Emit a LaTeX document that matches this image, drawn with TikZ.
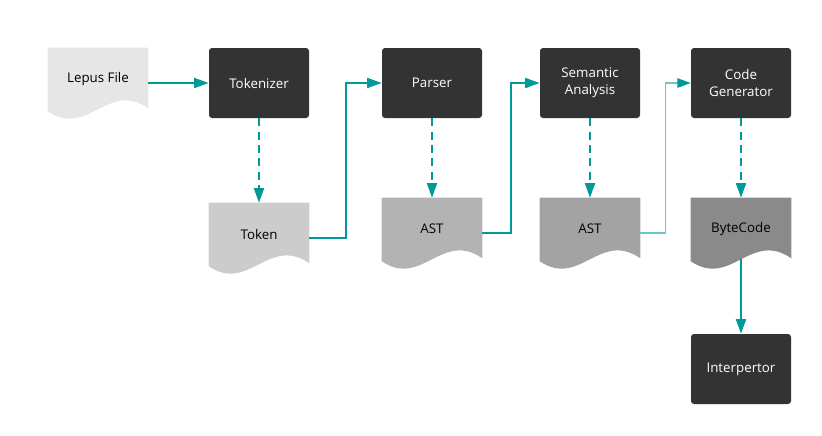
\documentclass[tikz,border=0pt]{standalone}
\usepackage{fontspec}
\setmainfont{Open Sans}
\usetikzlibrary{arrows.meta,calc,backgrounds}
\definecolor{teal1}{HTML}{009999}
\definecolor{teallt}{HTML}{6CC6C6}
\definecolor{boxc}{HTML}{333333}
\definecolor{d1}{HTML}{E6E6E6}
\definecolor{d2}{HTML}{CCCCCC}
\definecolor{d3}{HTML}{B3B3B3}
\definecolor{d4}{HTML}{A3A3A3}
\definecolor{d5}{HTML}{8A8A8A}
\newcommand\docfill[2]{%
  \fill[#2] ($(#1.south west)+(0,-7)$) .. controls ($(#1.south west)+(40,20)$) and ($(#1.south west)+(60,-38)$) .. ($(#1.south east)+(0,-10)$) -- (#1.north east) -- (#1.north west) -- cycle;}
\tikzset{
  every node/.style={font=\fontsize{10}{12.5}\selectfont},
  procbox/.style={rectangle, rounded corners=2.25pt, fill=boxc, text=white, minimum width=75pt, minimum height=52.5pt, inner sep=0pt, align=center},
  docnode/.style={rectangle, minimum width=75pt, minimum height=52.5pt, inner sep=0pt, label={[text=black, yshift=3pt]center:#1}},
  arr/.style={draw=teal1, line width=1.5pt, -{Triangle[length=11pt,width=7.5pt]}},
  dasharr/.style={arr, dash pattern=on 6pt off 4pt},
  lightarr/.style={draw=teallt, line width=1.2pt, -{Triangle[length=10pt,width=7pt,color=teal1]}},
  hvh/.style={to path={-| ($(\tikztostart)!.5!(\tikztotarget)$) |- (\tikztotarget)}}
}
\begin{document}
\begin{tikzpicture}[x=0.75pt,y=-0.75pt]
\useasboundingbox (0,0) rectangle (822,436);
% nodes
\node[docnode=Lepus File] (lepus) at (98,83) {};
\node[procbox] (tok) at (259,83) {Tokenizer};
\node[procbox] (parser) at (432,83) {Parser};
\node[procbox] (sem) at (590,83) {Semantic\\Analysis};
\node[procbox] (cg) at (741,83) {Code\\Generator};
\node[docnode=Token] (token) at (259,238) {};
\node[docnode=AST] (ast1) at (432,233) {};
\node[docnode=AST] (ast2) at (590,233) {};
\node[docnode=ByteCode] (bc) at (741,233) {};
\node[procbox] (interp) at (741,369) {Interpertor};
\begin{pgfonlayer}{background}
\docfill{lepus}{d1}
\docfill{token}{d2}
\docfill{ast1}{d3}
\docfill{ast2}{d4}
\docfill{bc}{d5}
\end{pgfonlayer}
% connectors
\draw[arr] (lepus.east) -- (tok.west);
\draw[dasharr] (tok.south) -- (token.north);
\draw[dasharr] (parser.south) -- (ast1.north);
\draw[dasharr] (sem.south) -- (ast2.north);
\draw[dasharr] (cg.south) -- (bc.north);
\draw[arr] (token.east) to[hvh] (parser.west);
\draw[arr] (ast1.east) to[hvh] (sem.west);
\draw[lightarr] (ast2.east) to[hvh] (cg.west);
\draw[arr] ($(bc.south)+(0,-9)$) -- (interp.north);
\end{tikzpicture}
\end{document}
